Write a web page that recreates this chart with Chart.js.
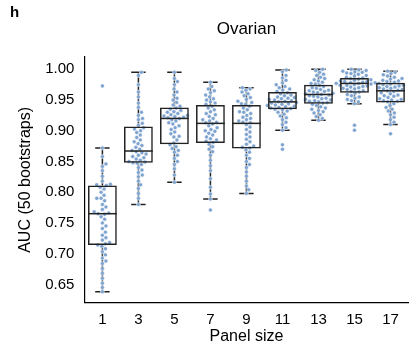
<!DOCTYPE html>
<html>
<head>
<meta charset="utf-8">
<script src="https://cdn.jsdelivr.net/npm/chart.js@4"></script>
<style>
  html, body { margin: 0; padding: 0; background: #fff; }
  #wrap { position: relative; width: 413px; height: 346px; }
  #panelTag { position: absolute; left: 10px; top: 3px; font: bold 15px "Liberation Sans", Arial, sans-serif; color: #000; }
</style>
</head>
<body>
<div id="wrap">
  <div id="panelTag">h</div>
  <canvas id="aucChart" width="413" height="346"></canvas>
</div>
<script>
// Panel sizes (x categories)
const panelSizes = ["1", "3", "5", "7", "9", "11", "13", "15", "17"];
const yTicks = [0.65, 0.7, 0.75, 0.8, 0.85, 0.9, 0.95, 1.0];
const chartTitle = "Ovarian";

// box stats
const q1 = [0.714, 0.848, 0.878, 0.88, 0.871, 0.935, 0.944, 0.962, 0.946];
const medians = [0.765, 0.867, 0.92, 0.912, 0.912, 0.947, 0.959, 0.977, 0.965];
const q3 = [0.811, 0.907, 0.938, 0.942, 0.942, 0.963, 0.975, 0.986, 0.978];
const whiskLo = [0.638, 0.78, 0.816, 0.789, 0.798, 0.901, 0.917, 0.944, 0.91];
const whiskHi = [0.872, 0.995, 0.995, 0.979, 0.97, 0.999, 1.0, 1.0, 0.997];

// 50 bootstrap AUCs per panel size (estimated)
const auc1 = [0.973, 0.872, 0.858, 0.846, 0.842, 0.835, 0.826, 0.818, 0.813, 0.812, 0.811,
  0.808, 0.805, 0.8, 0.795, 0.79, 0.79, 0.786, 0.78, 0.776, 0.772, 0.768, 0.766, 0.765,
  0.764, 0.76, 0.756, 0.75, 0.745, 0.741, 0.735, 0.73, 0.726, 0.722, 0.718, 0.716, 0.714,
  0.712, 0.708, 0.703, 0.698, 0.693, 0.688, 0.684, 0.676, 0.668, 0.66, 0.652, 0.645, 0.638];
const auc3 = [0.995, 0.99, 0.975, 0.963, 0.955, 0.945, 0.938, 0.93, 0.925, 0.92, 0.918, 0.912, 0.909,
  0.905, 0.903, 0.9, 0.897, 0.893, 0.889, 0.885, 0.882, 0.879, 0.876, 0.873, 0.87, 0.868,
  0.866, 0.864, 0.862, 0.86, 0.858, 0.856, 0.854, 0.852, 0.85, 0.849, 0.848, 0.847,
  0.845, 0.84, 0.836, 0.832, 0.828, 0.825, 0.818, 0.812, 0.806, 0.798, 0.79, 0.78];
const auc5 = [0.995, 0.985, 0.98, 0.975, 0.968, 0.963, 0.958, 0.953, 0.95, 0.946, 0.942, 0.94,
  0.937, 0.935, 0.933, 0.931, 0.93, 0.928, 0.926, 0.925, 0.924, 0.923, 0.922, 0.921, 0.92,
  0.918, 0.916, 0.913, 0.911, 0.908, 0.905, 0.902, 0.898, 0.895, 0.891, 0.89, 0.885, 0.88,
  0.877, 0.874, 0.871, 0.868, 0.865, 0.86, 0.855, 0.85, 0.845, 0.838, 0.828, 0.816];
const auc7 = [0.979, 0.972, 0.968, 0.965, 0.962, 0.958, 0.955, 0.952, 0.95, 0.947, 0.945, 0.943,
  0.94, 0.937, 0.934, 0.931, 0.928, 0.926, 0.923, 0.92, 0.918, 0.916, 0.914, 0.913,
  0.911, 0.908, 0.905, 0.902, 0.9, 0.899, 0.896, 0.893, 0.89, 0.887, 0.885, 0.883, 0.881,
  0.878, 0.874, 0.87, 0.866, 0.86, 0.852, 0.843, 0.835, 0.822, 0.808, 0.797, 0.789, 0.771];
const auc9 = [0.97, 0.968, 0.966, 0.963, 0.96, 0.957, 0.954, 0.951, 0.948, 0.946, 0.944, 0.943,
  0.94, 0.937, 0.934, 0.931, 0.93, 0.928, 0.925, 0.922, 0.92, 0.918, 0.916, 0.914, 0.913,
  0.91, 0.906, 0.902, 0.898, 0.894, 0.89, 0.886, 0.882, 0.878, 0.875, 0.873, 0.872,
  0.869, 0.865, 0.86, 0.855, 0.85, 0.845, 0.84, 0.833, 0.826, 0.818, 0.81, 0.804, 0.798];
const auc11 = [0.999, 0.996, 0.99, 0.986, 0.982, 0.978, 0.975, 0.972, 0.97, 0.968, 0.966, 0.964,
  0.962, 0.96, 0.958, 0.957, 0.955, 0.954, 0.953, 0.952, 0.951, 0.95, 0.949, 0.948, 0.947,
  0.946, 0.945, 0.944, 0.943, 0.942, 0.941, 0.94, 0.939, 0.938, 0.937, 0.936, 0.935,
  0.934, 0.932, 0.93, 0.927, 0.924, 0.921, 0.918, 0.914, 0.91, 0.905, 0.901, 0.877, 0.87];
const auc13 = [1.0, 0.998, 0.995, 0.992, 0.99, 0.987, 0.985, 0.983, 0.981, 0.979, 0.977, 0.976,
  0.974, 0.972, 0.97, 0.969, 0.967, 0.966, 0.965, 0.964, 0.963, 0.962, 0.961, 0.96, 0.959,
  0.958, 0.957, 0.956, 0.955, 0.953, 0.952, 0.951, 0.95, 0.949, 0.948, 0.947, 0.946, 0.945,
  0.943, 0.941, 0.939, 0.937, 0.935, 0.933, 0.931, 0.929, 0.926, 0.923, 0.92, 0.917];
const auc15 = [1.0, 0.999, 0.998, 0.997, 0.996, 0.995, 0.994, 0.993, 0.992, 0.99, 0.989, 0.987,
  0.986, 0.985, 0.984, 0.983, 0.982, 0.981, 0.98, 0.98, 0.979, 0.978, 0.978, 0.977, 0.977,
  0.976, 0.975, 0.974, 0.974, 0.973, 0.972, 0.971, 0.97, 0.969, 0.968, 0.967, 0.965, 0.964, 0.963,
  0.961, 0.959, 0.957, 0.955, 0.953, 0.951, 0.949, 0.947, 0.944, 0.909, 0.901];
const auc17 = [0.997, 0.995, 0.993, 0.991, 0.989, 0.987, 0.985, 0.984, 0.982, 0.981, 0.98, 0.979,
  0.977, 0.976, 0.975, 0.974, 0.973, 0.972, 0.971, 0.97, 0.969, 0.968, 0.967, 0.966, 0.965,
  0.964, 0.962, 0.96, 0.958, 0.957, 0.956, 0.954, 0.952, 0.951, 0.95, 0.949, 0.948, 0.947,
  0.944, 0.941, 0.938, 0.935, 0.932, 0.929, 0.926, 0.922, 0.918, 0.914, 0.91, 0.895];
const aucByPanel = [auc1, auc3, auc5, auc7, auc9, auc11, auc13, auc15, auc17];

const FONT = "'Liberation Sans', Arial, sans-serif";
const POINT_R = 2.0;

// start every point at its category centre, the swarm pass moves them sideways
const swarmPoints = [];
aucByPanel.forEach((vals, i) => {
  vals.forEach((v) => swarmPoints.push({ x: i, y: v, g: i }));
});

// whiskers (behind points), medians and the title (on top)
const boxExtras = {
  id: "boxExtras",
  beforeDatasetsDraw(chart) {
    const ctx = chart.ctx;
    const xs = chart.scales.x;
    const ys = chart.scales.y;
    const half = xs.width / panelSizes.length * 0.2;
    ctx.save();
    ctx.strokeStyle = "#222";
    ctx.lineWidth = 1.5;
    panelSizes.forEach((p, i) => {
      const cx = xs.getPixelForValue(i);
      ctx.beginPath();
      ctx.moveTo(cx, ys.getPixelForValue(whiskHi[i]));
      ctx.lineTo(cx, ys.getPixelForValue(q3[i]));
      ctx.moveTo(cx, ys.getPixelForValue(q1[i]));
      ctx.lineTo(cx, ys.getPixelForValue(whiskLo[i]));
      ctx.moveTo(cx - half, ys.getPixelForValue(whiskHi[i]));
      ctx.lineTo(cx + half, ys.getPixelForValue(whiskHi[i]));
      ctx.moveTo(cx - half, ys.getPixelForValue(whiskLo[i]));
      ctx.lineTo(cx + half, ys.getPixelForValue(whiskLo[i]));
      ctx.stroke();
    });
    ctx.restore();
  },
  afterDatasetsDraw(chart) {
    const ctx = chart.ctx;
    const xs = chart.scales.x;
    const ys = chart.scales.y;
    const half = xs.width / panelSizes.length * 0.4;
    ctx.save();
    ctx.strokeStyle = "#222";
    ctx.lineWidth = 1.5;
    panelSizes.forEach((p, i) => {
      const cx = xs.getPixelForValue(i);
      const my = ys.getPixelForValue(medians[i]);
      ctx.beginPath();
      ctx.moveTo(cx - half, my);
      ctx.lineTo(cx + half, my);
      ctx.stroke();
    });
    // title centred over the plot area
    const area = chart.chartArea;
    ctx.fillStyle = "#000";
    ctx.font = "17px " + FONT;
    ctx.textAlign = "center";
    ctx.textBaseline = "middle";
    ctx.fillText(chartTitle, (area.left + area.right) / 2, 29);
    ctx.restore();
  },
};

const aucCtx = document.getElementById("aucChart").getContext("2d");
const aucChart = new Chart(aucCtx, {
  type: "bar",
  data: {
    labels: panelSizes,
    datasets: [
      {
        label: "IQR",
        data: q1.map((v, i) => [v, q3[i]]),
        backgroundColor: "rgba(0,0,0,0)",
        borderColor: "#222",
        borderWidth: 1.5,
        borderSkipped: false,
        grouped: false,
        barPercentage: 0.8,
        categoryPercentage: 1,
        order: 0,
      },
      {
        type: "scatter",
        label: "AUC",
        data: swarmPoints,
        xAxisID: "xp",
        backgroundColor: "#7ea3cf",
        borderColor: "#ffffff",
        borderWidth: 0.5,
        pointRadius: POINT_R,
        order: 1,
      },
    ],
  },
  options: {
    responsive: false,
    animation: false,
    layout: { padding: { left: 16, right: 0, top: 57, bottom: 0 } },
    plugins: {
      legend: { display: false },
      tooltip: { enabled: false },
      title: { display: false },
    },
    scales: {
      x: {
        grid: { display: false, drawTicks: true, tickLength: 5, color: "#000" },
        border: { color: "#000", width: 1.2 },
        ticks: { color: "#000", font: { family: FONT, size: 15 }, padding: 3, maxRotation: 0 },
        title: {
          display: true,
          text: "Panel size",
          color: "#000",
          font: { family: FONT, size: 16 },
          padding: { top: -5, bottom: 0 },
        },
      },
      xp: {
        type: "linear",
        display: false,
        offset: false,
        grid: { offset: false },
        min: -0.5,
        max: panelSizes.length - 0.5,
      },
      y: {
        min: 0.62,
        max: 1.02,
        grid: { display: false, drawTicks: true, tickLength: 5, color: "#000" },
        border: { color: "#000", width: 1.2 },
        afterBuildTicks(scale) {
          scale.ticks = yTicks.map((v) => ({ value: v }));
        },
        ticks: {
          color: "#000",
          font: { family: FONT, size: 15 },
          padding: 5,
          callback: (v) => Number(v).toFixed(2),
        },
        title: {
          display: true,
          text: "AUC (50 bootstraps)",
          color: "#000",
          font: { family: FONT, size: 16 },
          padding: { top: 0, bottom: 5 },
        },
      },
    },
  },
  plugins: [boxExtras],
});

// beeswarm: push each point sideways until it no longer overlaps
function swarm(chart) {
  const ys = chart.scales.y;
  const xp = chart.scales.xp;
  const pxPerUnit = xp.getPixelForValue(1) - xp.getPixelForValue(0);
  const d = POINT_R * 2 + 0.3;
  aucByPanel.forEach((vals, g) => {
    const pts = swarmPoints.filter((p) => p.g === g);
    pts.sort((a, b) => a.y - b.y);
    const placed = [];
    pts.forEach((p) => {
      const py = ys.getPixelForValue(p.y);
      const cands = [0];
      placed.forEach((q) => {
        const dy = Math.abs(q.py - py);
        if (dy < d) {
          const dx = Math.sqrt(d * d - dy * dy);
          cands.push(q.px + dx, q.px - dx);
        }
      });
      cands.sort((a, b) => Math.abs(a) - Math.abs(b));
      let best = 0;
      for (const c of cands) {
        const ok = placed.every((q) => Math.hypot(q.px - c, q.py - py) >= d - 0.01);
        if (ok) { best = c; break; }
      }
      placed.push({ px: best, py: py });
      p.x = g + best / pxPerUnit;
    });
  });
  chart.update("none");
}
swarm(aucChart);
</script>
</body>
</html>
